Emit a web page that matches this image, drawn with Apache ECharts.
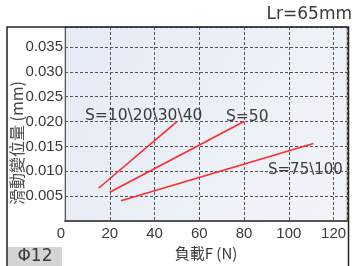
<!DOCTYPE html>
<html>
<head>
<meta charset="utf-8">
<script src="https://cdn.jsdelivr.net/npm/echarts@6/dist/echarts.min.js"></script>
<style>
  html, body { margin: 0; padding: 0; background: #fff; }
  #chart { width: 354px; height: 266px; }
</style>
</head>
<body>
<div id="chart"></div>
<script>
// load F (N) and slide displacement (mm)
const loadS1 = [15, 50];
const dispS1 = [0.0066, 0.020];
const loadS2 = [20, 80];
const dispS2 = [0.0058, 0.020];
const loadS3 = [25, 111];
const dispS3 = [0.0041, 0.0156];
const seriesNames = ["S=10\\20\\30\\40", "S=50", "S=75\\100"];
const xTicks = [0, 20, 40, 60, 80, 100, 120];
const yTicks = [0.005, 0.010, 0.015, 0.020, 0.025, 0.030, 0.035];

const FONT = "Liberation Sans";
const WIDE = "DejaVu Sans";
const CJK = "Noto Sans CJK TC";
const TXT = "#3a3a3a";

function pairs(xs, ys) {
  return xs.map((x, i) => [x, ys[i]]);
}

const chart = echarts.init(document.getElementById("chart"));

chart.setOption({
  animation: false,
  grid: {
    left: 65, top: 27, right: 7, bottom: 38,
    show: true,
    borderColor: "#9a9a9a",
    borderWidth: 1,
    backgroundColor: new echarts.graphic.LinearGradient(0, 0, 1, 1, [
      { offset: 0, color: "#e5ebf5" },
      { offset: 1, color: "#f1f4f9" }
    ])
  },
  xAxis: {
    type: "value",
    min: 0, max: 126, interval: 20,
    axisLine: { show: true, lineStyle: { color: "#555", width: 2 } },
    axisTick: { show: false },
    splitLine: { show: true, lineStyle: { color: "#555", type: [3, 2], width: 1 } },
    showMaxLabel: false,
    axisLabel: {
      fontFamily: FONT, fontSize: 15, color: TXT, margin: 5,
      alignMinLabel: "right",
      formatter: v => xTicks.includes(v) ? String(v) : ""
    },
    name: "負載F (N)",
    nameLocation: "middle",
    nameGap: 23,
    nameTextStyle: { fontFamily: CJK, fontSize: 15, color: TXT }
  },
  yAxis: {
    type: "value",
    min: 0, max: 0.039, interval: 0.005,
    axisLine: { show: true, lineStyle: { color: "#555", width: 1 } },
    axisTick: { show: false },
    splitLine: { show: true, lineStyle: { color: "#555", type: [3, 2], width: 1 } },
    showMinLabel: false,
    showMaxLabel: false,
    axisLabel: {
      fontFamily: FONT, fontSize: 15, color: TXT, margin: 2,
      formatter: v => yTicks.some(t => Math.abs(t - v) < 1e-9) ? v.toFixed(3) : ""
    }
  },
  series: [
    { name: seriesNames[0], type: "line", data: pairs(loadS1, dispS1) },
    { name: seriesNames[1], type: "line", data: pairs(loadS2, dispS2) },
    { name: seriesNames[2], type: "line", data: pairs(loadS3, dispS3) }
  ].map(s => Object.assign(s, {
    symbol: "none",
    lineStyle: { color: "#ff2a2a", width: 1.6 }
  })),
  graphic: [
    // outer frame
    { type: "polyline", shape: { points: [[7, 266], [7, 27], [348.5, 27], [348.5, 266]] },
      style: { stroke: "#222", lineWidth: 1.5, fill: null }, z: 10 },
    { type: "rect", shape: { x: 8, y: 247, width: 54, height: 19 },
      style: { fill: "#d4d4d4" } },
    { type: "text", x: 35, y: 257,
      style: { text: "Φ12", fontFamily: WIDE, fontSize: 17, fill: TXT, align: "center", verticalAlign: "middle" } },
    { type: "text", x: 352, y: 15,
      style: { text: "Lr=65mm", fontFamily: WIDE, fontSize: 17, fill: TXT, align: "right", verticalAlign: "middle" } },
    { type: "text", x: 17, y: 143, rotation: Math.PI / 2,
      style: { text: "滑動變位量 (mm)", fontFamily: CJK, fontSize: 16, fill: "#4a4a4a", align: "center", verticalAlign: "middle" } },
    { type: "text", x: 85, y: 116,
      style: { text: seriesNames[0], fontFamily: WIDE, fontSize: 15.5, fill: TXT, align: "left", verticalAlign: "middle" }, z: 20 },
    { type: "text", x: 226, y: 117,
      style: { text: seriesNames[1], fontFamily: WIDE, fontSize: 15.5, fill: TXT, align: "left", verticalAlign: "middle" }, z: 20 },
    { type: "text", x: 268, y: 170,
      style: { text: seriesNames[2], fontFamily: WIDE, fontSize: 15, fill: TXT, align: "left", verticalAlign: "middle" }, z: 20 }
  ]
});
</script>
</body>
</html>
